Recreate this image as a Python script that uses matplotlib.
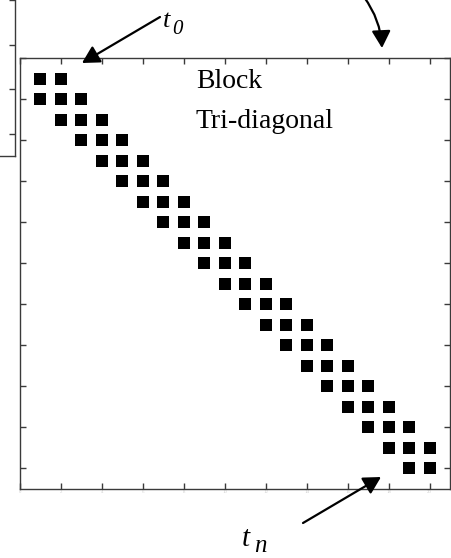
import matplotlib
matplotlib.use("Agg")
import matplotlib.pyplot as plt
import numpy as np

# ---- data: sparsity pattern of a 20x20 block tri-diagonal matrix ----
pattern = [
    "XX..................",
    "XXX.................",
    ".XXX................",
    "..XXX...............",
    "...XXX..............",
    "....XXX.............",
    ".....XXX............",
    "......XXX...........",
    ".......XXX..........",
    "........XXX.........",
    ".........XXX........",
    "..........XXX.......",
    "...........XXX......",
    "............XXX.....",
    ".............XXX....",
    "..............XXX...",
    "...............XXX..",
    "................XXX.",
    ".................XXX",
    "..................XX",
]
tick_values = [0, 2, 4, 6, 8, 10, 12, 14, 16, 18, 20]
label_block = "Block"
label_tri = "Tri-diagonal"

rows, cols = [], []
for i, line in enumerate(pattern):
    for j, ch in enumerate(line):
        if ch == "X":
            rows.append(i + 1)
            cols.append(j + 1)

plt.rcParams["font.family"] = ["Liberation Serif", "DejaVu Serif"]

W, H = 452, 558
fig = plt.figure(figsize=(W / 100, H / 100), dpi=100)

spine_col = "#3a3a3a"

# partial neighbouring box at the top-left (mostly off-figure)
ax2 = fig.add_axes([-0.3, 1 - 156 / H, 0.3 + 15 / W, 222.5 / H])
ax2.set_xlim(0, 1)
ax2.set_ylim(-0.5, 4.5)
ax2.set_xticks([])
ax2.set_yticks([0, 1, 2, 3])
ax2.yaxis.tick_right()
ax2.tick_params(axis="y", direction="in", length=4, width=1, colors=spine_col,
                labelright=False, labelleft=False)
for s in ax2.spines.values():
    s.set_color(spine_col)
    s.set_linewidth(1.0)

# main spy-like axes
ax = fig.add_axes([20 / W, 1 - 488.5 / H, 430 / W, 430.5 / H])
ax.plot(cols, rows, linestyle="none", marker="s", markersize=8.2,
        color="black", markeredgewidth=0)
ax.set_xlim(0, 21)
ax.set_ylim(21, 0)
ax.set_xticks(tick_values)
ax.set_yticks(tick_values)
ax.tick_params(direction="in", length=4, width=1, colors=spine_col,
               top=True, right=True, bottom=True, left=True,
               labelleft=False, labeltop=False, labelright=False,
               labelbottom=True, labelsize=3.5, labelcolor="#d0d0d0", pad=1)
for s in ax.spines.values():
    s.set_color(spine_col)
    s.set_linewidth(1.0)

# text labels
fig.text(196 / W, 1 - 88 / H, label_block, fontsize=20, ha="left", va="baseline")
fig.text(196 / W, 1 - 128 / H, label_tri, fontsize=20, ha="left", va="baseline")
fig.text(163 / W, 1 - 27 / H, "t", fontsize=19, style="italic",
         ha="left", va="baseline")
fig.text(172 / W, 1 - 34 / H, "0", fontsize=15, style="italic",
         ha="left", va="baseline")
fig.text(242 / W, 1 - 546 / H, "t", fontsize=21, style="italic",
         ha="left", va="baseline")
fig.text(254 / W, 1 / H, "n", fontsize=18, style="italic",
         ha="left", va="bottom")

# arrows (figure pixel coordinates)
astyle = "-|>,head_length=0.4,head_width=0.22"
fig.add_artist(matplotlib.patches.FancyArrowPatch(
    (160, H - 17), (82, H - 63), transform=None, arrowstyle=astyle,
    mutation_scale=26, lw=1.6, color="black", shrinkA=0, shrinkB=0))
fig.add_artist(matplotlib.patches.FancyArrowPatch(
    (303, H - 523), (381, H - 477), transform=None, arrowstyle=astyle,
    mutation_scale=26, lw=1.6, color="black", shrinkA=0, shrinkB=0))
fig.add_artist(matplotlib.patches.FancyArrowPatch(
    (364, H + 3), (382, H - 48), transform=None, arrowstyle=astyle,
    connectionstyle="arc3,rad=-0.15",
    mutation_scale=26, lw=1.6, color="black", shrinkA=0, shrinkB=0))

fig.savefig("out.png", dpi=100)
